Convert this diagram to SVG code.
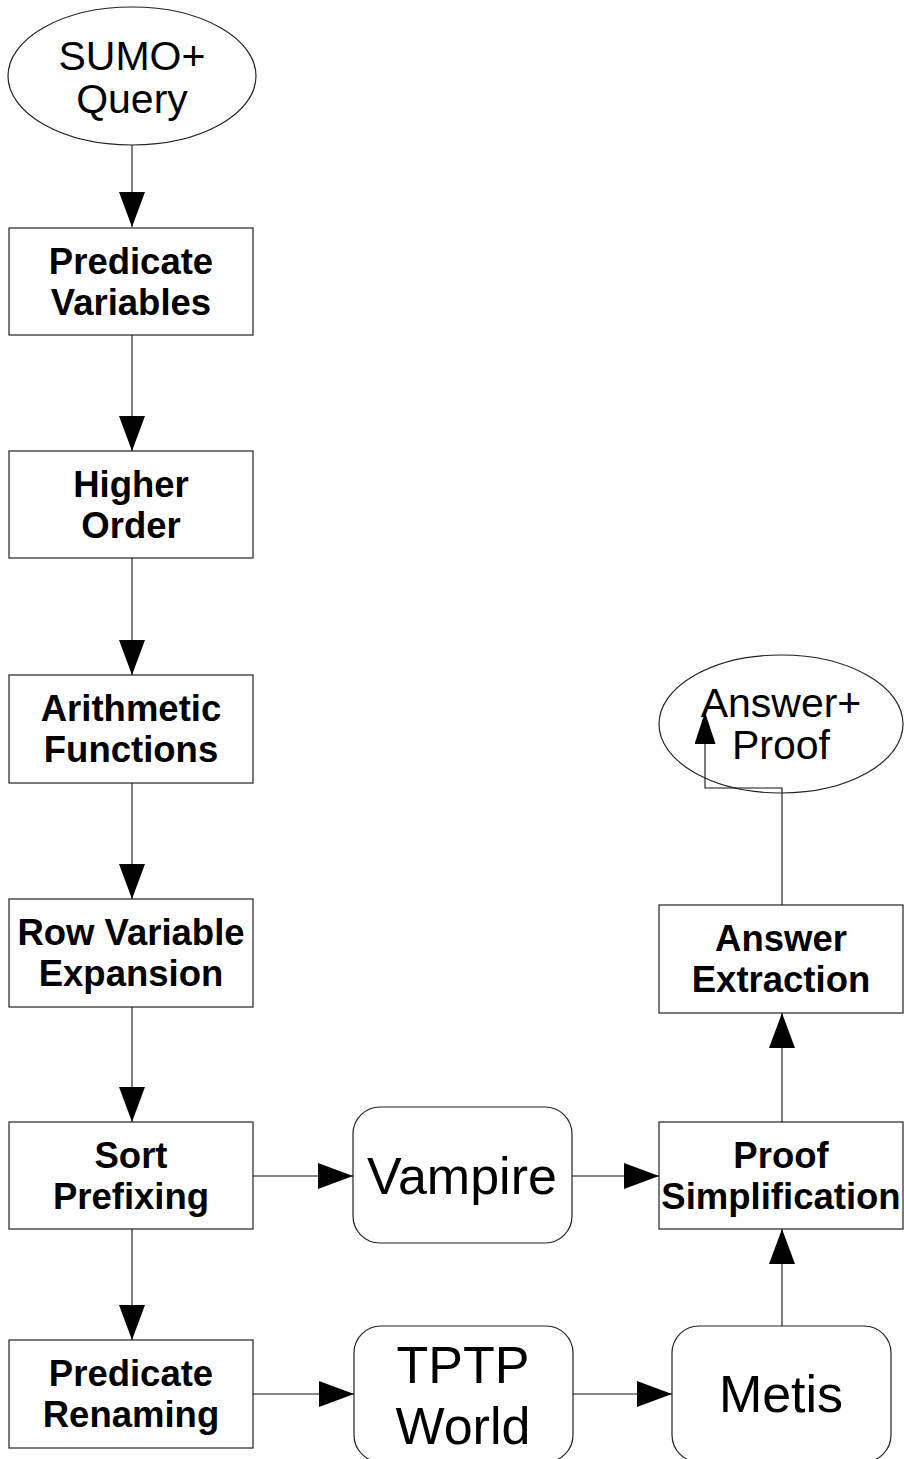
<svg xmlns="http://www.w3.org/2000/svg" width="904" height="1459" viewBox="0 0 904 1459">
<defs>
<style>
.shape{fill:#fff;stroke:#222;stroke-width:1.2}
.hollow{fill:none;stroke:#222;stroke-width:1.2}
.conn{fill:none;stroke:#111;stroke-width:1.1}
.b{font-family:"Liberation Sans",Arial,sans-serif;font-weight:bold;font-size:36.5px;fill:#000;text-anchor:middle}
.r{font-family:"Liberation Sans",Arial,sans-serif;font-size:41px;fill:#000;text-anchor:middle}
.big{font-family:"Liberation Sans",Arial,sans-serif;font-size:52px;fill:#000;text-anchor:middle}
</style>
<marker id="ah" markerUnits="userSpaceOnUse" markerWidth="35" markerHeight="26" refX="35" refY="13" orient="auto">
<path d="M0,0 L35,13 L0,26 z" fill="#000"/>
</marker>
<marker id="ahs" markerUnits="userSpaceOnUse" markerWidth="32" markerHeight="21" refX="32" refY="10.5" orient="auto">
<path d="M0,0 L32,10.5 L0,21 z" fill="#000"/>
</marker>
</defs>
<rect width="904" height="1459" fill="#fff"/>

<g id="sumo-query">
<ellipse class="shape" cx="132" cy="76" rx="124" ry="69"/>
<text class="r" x="132" y="70">SUMO+</text>
<text class="r" x="132" y="113">Query</text>
</g>

<g id="predicate-variables">
<rect class="shape" x="9" y="228" width="244" height="107"/>
<text class="b" x="131" y="274">Predicate</text>
<text class="b" x="131" y="315">Variables</text>
</g>

<g id="higher-order">
<rect class="shape" x="9" y="451" width="244" height="107"/>
<text class="b" x="131" y="497">Higher</text>
<text class="b" x="131" y="538">Order</text>
</g>

<g id="arithmetic-functions">
<rect class="shape" x="9" y="675" width="244" height="108"/>
<text class="b" x="131" y="721">Arithmetic</text>
<text class="b" x="131" y="762">Functions</text>
</g>

<g id="row-variable-expansion">
<rect class="shape" x="9" y="899" width="244" height="108"/>
<text class="b" x="131" y="945">Row Variable</text>
<text class="b" x="131" y="986">Expansion</text>
</g>

<g id="sort-prefixing">
<rect class="shape" x="9" y="1122" width="244" height="107"/>
<text class="b" x="131" y="1168">Sort</text>
<text class="b" x="131" y="1209">Prefixing</text>
</g>

<g id="predicate-renaming">
<rect class="shape" x="9" y="1340" width="244" height="108"/>
<text class="b" x="131" y="1386">Predicate</text>
<text class="b" x="131" y="1427">Renaming</text>
</g>

<g id="vampire">
<rect class="shape" x="353" y="1107" width="219" height="136" rx="27" ry="27"/>
<text class="big" x="462" y="1194">Vampire</text>
</g>

<g id="tptp-world">
<rect class="shape" x="354" y="1326" width="219" height="136" rx="27" ry="27"/>
<text class="big" x="463" y="1383">TPTP</text>
<text class="big" x="463" y="1444">World</text>
</g>

<g id="metis">
<rect class="shape" x="672" y="1326" width="219" height="136" rx="27" ry="27"/>
<text class="big" x="781" y="1412">Metis</text>
</g>

<g id="proof-simplification">
<rect class="shape" x="659" y="1122" width="244" height="107"/>
<text class="b" x="781" y="1168">Proof</text>
<text class="b" x="781" y="1209">Simplification</text>
</g>

<g id="answer-extraction">
<rect class="shape" x="659" y="905" width="244" height="108"/>
<text class="b" x="781" y="951">Answer</text>
<text class="b" x="781" y="992">Extraction</text>
</g>

<g id="answer-proof">
<ellipse class="hollow" cx="781" cy="724" rx="122" ry="69"/>
<text class="r" x="781" y="717">Answer+</text>
<text class="r" x="781" y="759">Proof</text>
</g>

<g id="connectors">
<line class="conn" x1="132" y1="145" x2="132" y2="227" marker-end="url(#ah)"/>
<line class="conn" x1="132" y1="335" x2="132" y2="451" marker-end="url(#ah)"/>
<line class="conn" x1="132" y1="558" x2="132" y2="675" marker-end="url(#ah)"/>
<line class="conn" x1="132" y1="783" x2="132" y2="899" marker-end="url(#ah)"/>
<line class="conn" x1="132" y1="1007" x2="132" y2="1122" marker-end="url(#ah)"/>
<line class="conn" x1="132" y1="1229" x2="132" y2="1340" marker-end="url(#ah)"/>
<line class="conn" x1="253" y1="1176" x2="353" y2="1176" marker-end="url(#ah)"/>
<line class="conn" x1="572" y1="1176" x2="659" y2="1176" marker-end="url(#ah)"/>
<line class="conn" x1="253" y1="1394" x2="354" y2="1394" marker-end="url(#ah)"/>
<line class="conn" x1="573" y1="1394" x2="672" y2="1394" marker-end="url(#ah)"/>
<line class="conn" x1="782" y1="1326" x2="782" y2="1229" marker-end="url(#ah)"/>
<line class="conn" x1="782" y1="1122" x2="782" y2="1013" marker-end="url(#ah)"/>
<polyline class="conn" points="782,905 782,788 705,788 705,712" marker-end="url(#ahs)"/>
</g>
</svg>
